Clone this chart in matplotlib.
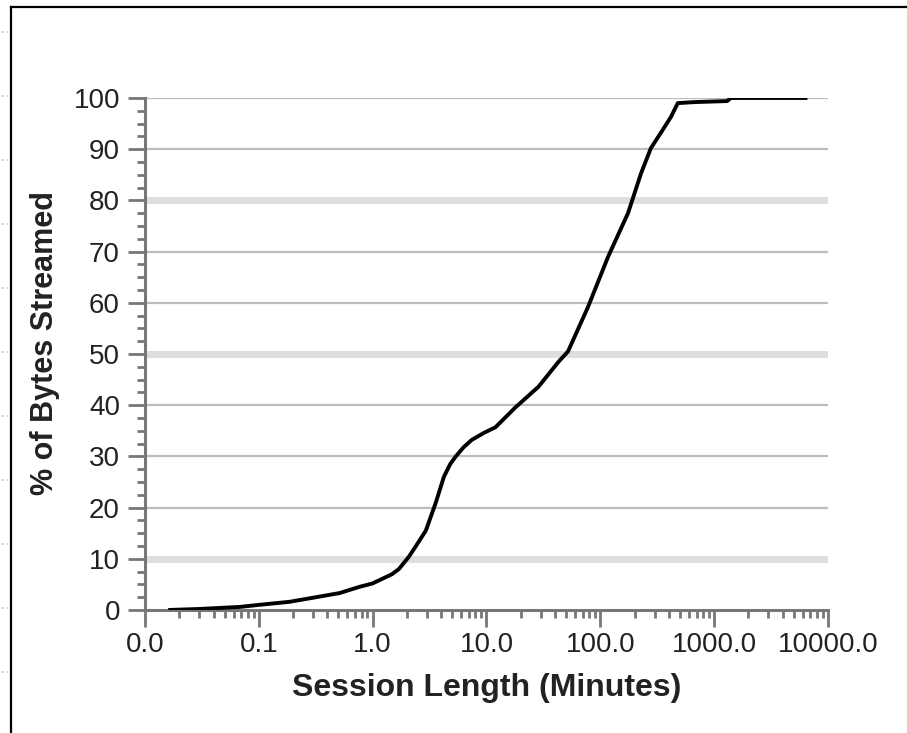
import matplotlib
matplotlib.use("Agg")
import matplotlib.pyplot as plt
from matplotlib.lines import Line2D
from matplotlib.ticker import FixedLocator, LogLocator, FuncFormatter, NullFormatter

plt.rcParams['font.family'] = ['Liberation Sans', 'DejaVu Sans']

# session length (minutes) vs cumulative % of bytes streamed
session_min = [0.016, 0.03, 0.068, 0.1, 0.186, 0.3, 0.51, 0.76, 1.0, 1.48, 1.7,
               2.08, 2.4, 2.93, 3.59, 4.22, 4.8, 5.37, 6.3, 7.4, 9.5, 12, 18, 28.6,
               43, 52, 78, 117, 175, 228, 278, 340, 417, 479, 670, 1300, 1400, 6600]
pct_bytes = [0, 0.2, 0.6, 1.0, 1.6, 2.4, 3.3, 4.5, 5.2, 7.0, 8.0,
             10.4, 12.5, 15.5, 21, 26, 28.5, 30, 31.8, 33.2, 34.6, 35.7, 39.6, 43.6,
             48.5, 50.5, 59.2, 69, 77.5, 85.3, 90.2, 93.2, 96.3, 99, 99.2, 99.4, 100, 100]

x_ticks = [0.01, 0.1, 1, 10, 100, 1000, 10000]
y_ticks = [0, 10, 20, 30, 40, 50, 60, 70, 80, 90, 100]
light_rows = [10, 50, 80]   # these grid rows are drawn wider and paler

fig = plt.figure(figsize=(9.07, 7.33), dpi=100)
ax = fig.add_axes([145 / 907, 1 - 610 / 733, 683 / 907, 512 / 733])

for yv in y_ticks[1:]:
    if yv in light_rows:
        ax.axhline(yv, color='#dedede', lw=5, zorder=1)
    else:
        ax.axhline(yv, color='#bdbdbd', lw=1.6, zorder=1)

ax.plot(session_min, pct_bytes, color='black', lw=2.8, zorder=3,
        solid_joinstyle='round', solid_capstyle='butt')

ax.set_xscale('log')
ax.set_xlim(0.01, 10000)
ax.set_ylim(0, 100)
ax.xaxis.set_major_locator(FixedLocator(x_ticks))
ax.xaxis.set_major_formatter(FuncFormatter(lambda v, p: f"{v:.1f}"))
ax.xaxis.set_minor_locator(LogLocator(base=10, subs=range(2, 10)))
ax.xaxis.set_minor_formatter(NullFormatter())
ax.yaxis.set_major_locator(FixedLocator(y_ticks))
ax.yaxis.set_minor_locator(FixedLocator([v / 2 for v in range(0, 201, 5)]))

for side in ['top', 'right']:
    ax.spines[side].set_visible(False)
for side in ['left', 'bottom']:
    ax.spines[side].set_color('#777777')
    ax.spines[side].set_linewidth(2.2)

ax.tick_params(which='major', direction='out', length=12, width=2, color='#777777',
               labelsize=20, labelcolor='#222222')
ax.tick_params(which='minor', direction='out', length=6, width=2, color='#777777')
ax.tick_params(axis='y', which='major', pad=6)
ax.tick_params(axis='x', which='major', pad=4)

ax.set_xlabel('Session Length (Minutes)', fontsize=23, fontweight='bold', color='#222222')
ax.set_ylabel('% of Bytes Streamed', fontsize=22, fontweight='bold', color='#222222')
ax.xaxis.set_label_coords(0.5, -0.152)
ax.yaxis.label.set_va('center')
ax.xaxis.label.set_va('center')
ax.yaxis.set_label_coords(-0.146, 0.522)

# page frame on the left and top
fig.add_artist(Line2D([11 / 907, 11 / 907], [0, 1 - 7 / 733], color='black', lw=1.6))
fig.add_artist(Line2D([11 / 907, 1], [1 - 7 / 733, 1 - 7 / 733], color='black', lw=1.6))

# faint ruler marks in the left margin
for py in range(32, 733, 64):
    fig.add_artist(Line2D([1 / 907, 8 / 907], [1 - py / 733, 1 - py / 733],
                          color='#c8d4f0', lw=1.2, ls=(0, (2, 1.5))))

fig.savefig('out.png', dpi=100)
